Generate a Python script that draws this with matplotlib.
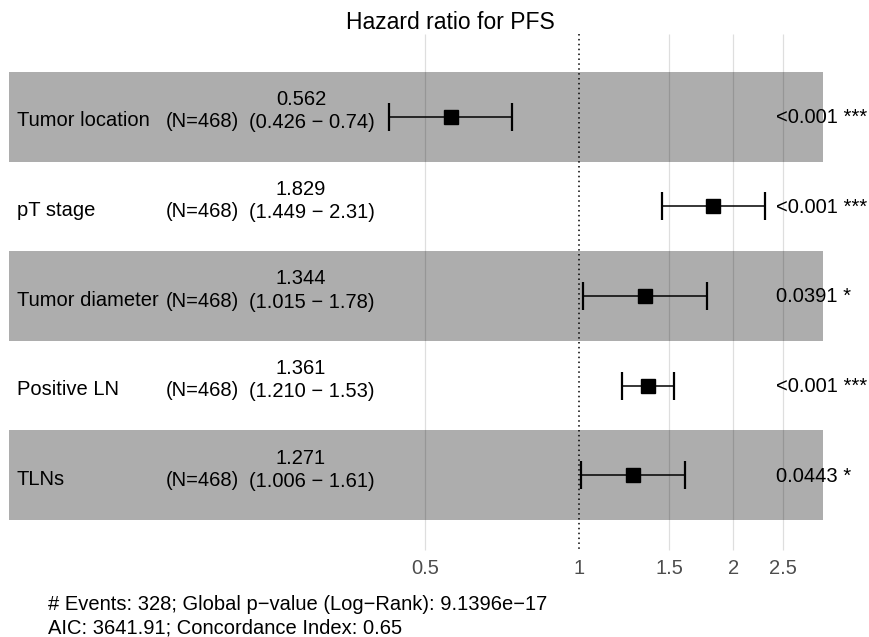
import numpy as np
import matplotlib
matplotlib.use("Agg")
import matplotlib.pyplot as plt

plt.rcParams['font.family'] = ['Liberation Sans', 'DejaVu Sans']

variables = ["Tumor location", "pT stage", "Tumor diameter", "Positive LN", "TLNs"]
n_labels = ["(N=468)"] * 5
hr = [0.562, 1.829, 1.344, 1.361, 1.271]
ci_low = [0.426, 1.449, 1.015, 1.210, 1.006]
ci_high = [0.74, 2.31, 1.78, 1.53, 1.61]
hr_text = ["0.562", "1.829", "1.344", "1.361", "1.271"]
ci_text = ["(0.426 \u2212 0.74)", "(1.449 \u2212 2.31)", "(1.015 \u2212 1.78)",
           "(1.210 \u2212 1.53)", "(1.006 \u2212 1.61)"]
p_text = ["<0.001 ***", "<0.001 ***", "0.0391 *", "<0.001 ***", "0.0443 *"]
ticks = [0.5, 1, 1.5, 2, 2.5]
tick_labels = ["0.5", "1", "1.5", "2", "2.5"]
title = "Hazard ratio for PFS"
footer1 = "# Events: 328; Global p\u2212value (Log\u2212Rank): 9.1396e\u221217"
footer2 = "AIC: 3641.91; Concordance Index: 0.65"

W, H = 870, 637
fig = plt.figure(figsize=(W / 100, H / 100), dpi=100)
ax = fig.add_axes([0, 0, 1, 1])
ax.set_xscale('log')

X1 = 579.2   # pixel of HR = 1
SX = 222.4   # pixels per ln unit
Y0 = 116.8   # pixel centre of first row
RH = 89.6    # row height in pixels

ax.set_xlim(np.exp((0 - X1) / SX), np.exp((W - X1) / SX))
ax.set_ylim((H - Y0) / RH, (0 - Y0) / RH)
ax.axis('off')


def py(p):
    return (p - Y0) / RH


def fx(p):
    return p / W


tr = ax.get_yaxis_transform()
fs = 14.5
n = len(variables)
rows = np.arange(n)

# bands
for i in rows:
    if i % 2 == 0:
        ax.axhspan(i - 0.5, i + 0.5, xmin=fx(9), xmax=fx(823),
                   color='#ADADAD', lw=0, zorder=1)

# grid lines
for t in ticks:
    if t == 1:
        ax.vlines(t, py(34), py(552), colors='black', linestyles=(0, (1, 2.2)),
                  lw=1.1, zorder=3)
    else:
        ax.vlines(t, py(34), py(550), colors='black', alpha=0.13, lw=0.9, zorder=2)
    ax.text(t, py(569), tick_labels[ticks.index(t)], ha='center', va='center',
            fontsize=fs, color='#4D4D4D', zorder=5)

# estimates
hr_a = np.array(hr)
err = np.vstack([hr_a - np.array(ci_low), np.array(ci_high) - hr_a])
ax.errorbar(hr_a, rows, xerr=err, fmt='none', ecolor='black', elinewidth=1.1,
            capsize=10, capthick=1.6, zorder=4)
ax.plot(hr_a, rows, 's', color='black', markersize=10, zorder=5)

# text columns
for i in rows:
    ax.text(fx(17), i + 4 / RH, variables[i], transform=tr, ha='left', va='center',
            fontsize=fs)
    ax.text(fx(166), i + 5 / RH, n_labels[i], transform=tr, ha='left', va='center',
            fontsize=fs)
    ax.text(fx(301), i - 17 / RH, hr_text[i], transform=tr, ha='center', va='center',
            fontsize=fs)
    ax.text(fx(312), i + 6 / RH, ci_text[i], transform=tr, ha='center', va='center',
            fontsize=fs)
    ax.text(fx(776), i + 1 / RH, p_text[i], transform=tr, ha='left', va='center',
            fontsize=fs)

ax.text(fx(450), py(22), title, transform=tr, ha='center', va='center', fontsize=16.5)
ax.text(fx(48), py(604), footer1, transform=tr, ha='left', va='center', fontsize=fs)
ax.text(fx(48), py(628), footer2, transform=tr, ha='left', va='center', fontsize=fs)

fig.savefig("out.png", dpi=100)
